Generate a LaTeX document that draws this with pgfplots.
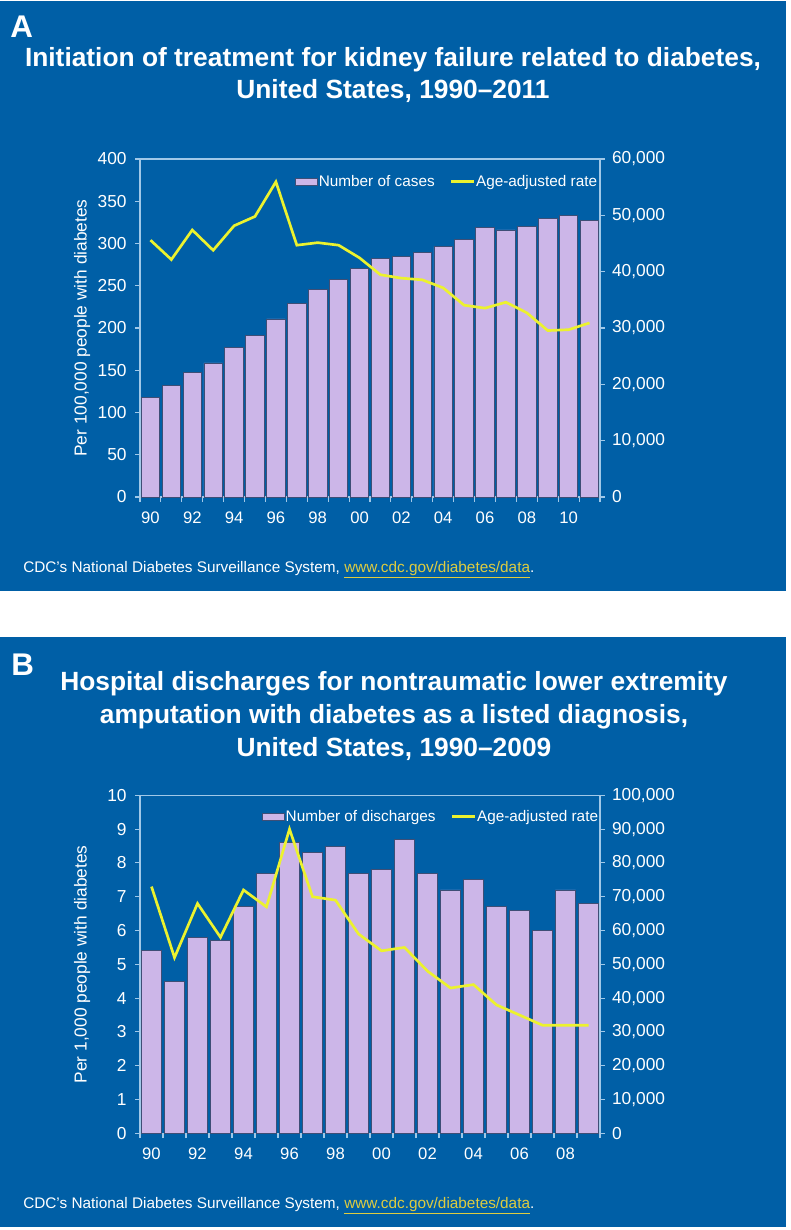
\documentclass[border=0pt]{standalone}
\usepackage{fontspec}
\setmainfont{Liberation Sans}
\usepackage{pgfplots}
\pgfplotsset{compat=1.18}

\definecolor{cdcblue}{RGB}{0,95,166}
\definecolor{axisline}{RGB}{160,200,232}
\definecolor{barfill}{RGB}{204,182,232}
\definecolor{baredge}{RGB}{62,78,118}
\definecolor{rateline}{RGB}{236,242,46}
\definecolor{linkcol}{RGB}{222,204,64}

\pgfplotsset{
  panel/.style={
    scale only axis, width=345pt, height=253.5pt, anchor=south west,
    axis line style={axisline, line width=0.8pt},
    tick style={axisline, line width=0.8pt},
    tick align=outside, major tick length=3.5pt, minor tick length=3.5pt,
    ticklabel style={white, font=\fontsize{13}{15}\selectfont},
    /pgf/number format/fixed,
    /pgf/number format/assume math mode=true,
    /pgf/number format/1000 sep={,},
    scaled y ticks=false,
  },
  barpanel/.style={
    panel, ybar, bar width=0.88,
    ytick pos=right, yticklabel pos=right, xtick pos=left,
    yticklabel style={xshift=2pt},
    major x tick style={draw=none},
    xticklabel style={font=\fontsize{12.5}{14}\selectfont, yshift=-4pt},
  },
  linepanel/.style={
    panel, axis x line=none, axis y line*=left,
    yticklabel style={xshift=-3pt},
    ylabel style={white, font=\fontsize{13}{15}\selectfont,
      at={(axis description cs:-0.126,0.5)}, anchor=center},
    legend columns=2,
    legend style={draw=none, fill=none, text=white, inner sep=0pt,
      font=\fontsize{11.5}{13}\selectfont, nodes={inner sep=0.75pt},
      /tikz/every even column/.append style={column sep=10.5pt}},
  },
  barlegend/.style={legend image code/.code={\draw[fill=barfill, draw=baredge, line width=0.4pt] (0pt,-2.5pt) rectangle (16.5pt,2.5pt);}},
  ratelegend/.style={legend image code/.code={\draw[rateline, line width=2pt] (0pt,0pt) -- (17pt,0pt);}},
}

\begin{document}
\begin{tikzpicture}
\begin{scope}[x=0.75pt, y=-0.75pt]
  \fill[white] (0,0) rectangle (790,1230);
  \fill[cdcblue] (0,1) rectangle (786,590.5);
  \fill[cdcblue] (0,637) rectangle (786,1227);
  \node[anchor=base west, white, inner sep=0pt, font=\bfseries\fontsize{23.5}{24}\selectfont] at (10,38) {A};
  \node[anchor=base west, white, inner sep=0pt, font=\bfseries\fontsize{23.5}{24}\selectfont] at (11,675) {B};
  \begin{scope}[every node/.style={anchor=base, white, inner sep=0pt, font=\bfseries\fontsize{19.75}{24}\selectfont}]
    \node at (393,67) {Initiation of treatment for kidney failure related to diabetes,};
    \node at (393,99) {United States, 1990–2011};
    \node at (394,690) {Hospital discharges for nontraumatic lower extremity};
    \node at (394,723) {amputation with diabetes as a listed diagnosis,};
    \node at (394,756) {United States, 1990–2009};
  \end{scope}
  \begin{scope}[every node/.style={anchor=base west, white, inner sep=0pt, font=\fontsize{11.5}{13}\selectfont}]
    \node at (23,572) {CDC’s National Diabetes Surveillance System, \textcolor{linkcol}{\underline{www.cdc.gov/diabetes/data}}.};
    \node at (23,1208) {CDC’s National Diabetes Surveillance System, \textcolor{linkcol}{\underline{www.cdc.gov/diabetes/data}}.};
  \end{scope}
\end{scope}

% Panel A: kidney failure
\begin{axis}[barpanel, at={(105pt,-372.75pt)},
  xmin=-0.5, xmax=21.5, ymin=0, ymax=60000, ytick={0,10000,...,60000},
  xtick={0,2,...,20}, xticklabels={90,92,94,96,98,00,02,04,06,08,10},
  minor xtick={-0.5,0.5,...,21.5}]
\addplot[fill=barfill, draw=baredge, line width=0.6pt] coordinates {
  (0,17600) (1,19800) (2,22150) (3,23800) (4,26600) (5,28600) (6,31600)
  (7,34300) (8,36800) (9,38600) (10,40500) (11,42400) (12,42700) (13,43450)
  (14,44450) (15,45750) (16,47800) (17,47400) (18,48000) (19,49500)
  (20,50000) (21,49100)};
\end{axis}
\begin{axis}[linepanel, at={(105pt,-372.75pt)},
  xmin=-0.5, xmax=21.5, ymin=0, ymax=400, ytick={0,50,...,400},
  ylabel={Per 100,000 people with diabetes},
  legend style={at={(axis description cs:0.337,0.933)}, anchor=west}]
\addlegendimage{barlegend}
\addlegendentry{Number of cases}
\addplot[rateline, line width=2pt, ratelegend] coordinates {
  (0,304) (1,281) (2,316) (3,292) (4,321) (5,332) (6,373) (7,298) (8,301)
  (9,298) (10,283) (11,263) (12,259) (13,257) (14,247.5) (15,227) (16,223.5)
  (17,230.5) (18,218) (19,197) (20,198) (21,206)};
\addlegendentry{Age-adjusted rate}
\end{axis}

% Panel B: amputations
\begin{axis}[barpanel, at={(105pt,-850pt)},
  xmin=-0.5, xmax=19.5, ymin=0, ymax=100000, ytick={0,10000,...,100000},
  xtick={0,2,...,18}, xticklabels={90,92,94,96,98,00,02,04,06,08},
  minor xtick={-0.5,0.5,...,19.5}]
\addplot[fill=barfill, draw=baredge, line width=0.6pt] coordinates {
  (0,54000) (1,45000) (2,58000) (3,57000) (4,67000) (5,77000) (6,86000)
  (7,83000) (8,85000) (9,77000) (10,78000) (11,87000) (12,77000) (13,72000)
  (14,75000) (15,67000) (16,66000) (17,60000) (18,72000) (19,68000)};
\end{axis}
\begin{axis}[linepanel, at={(105pt,-850pt)},
  xmin=-0.5, xmax=19.5, ymin=0, ymax=10, ytick={0,1,...,10},
  ylabel={Per 1,000 people with diabetes},
  legend style={at={(axis description cs:0.265,0.937)}, anchor=west}]
\addlegendimage{barlegend}
\addlegendentry{Number of discharges}
\addplot[rateline, line width=2pt, ratelegend] coordinates {
  (0,7.3) (1,5.2) (2,6.8) (3,5.8) (4,7.2) (5,6.7) (6,9.0) (7,7.0) (8,6.9)
  (9,5.9) (10,5.4) (11,5.5) (12,4.8) (13,4.3) (14,4.4) (15,3.8) (16,3.5)
  (17,3.2) (18,3.2) (19,3.2)};
\addlegendentry{Age-adjusted rate}
\end{axis}
\end{tikzpicture}
\end{document}
